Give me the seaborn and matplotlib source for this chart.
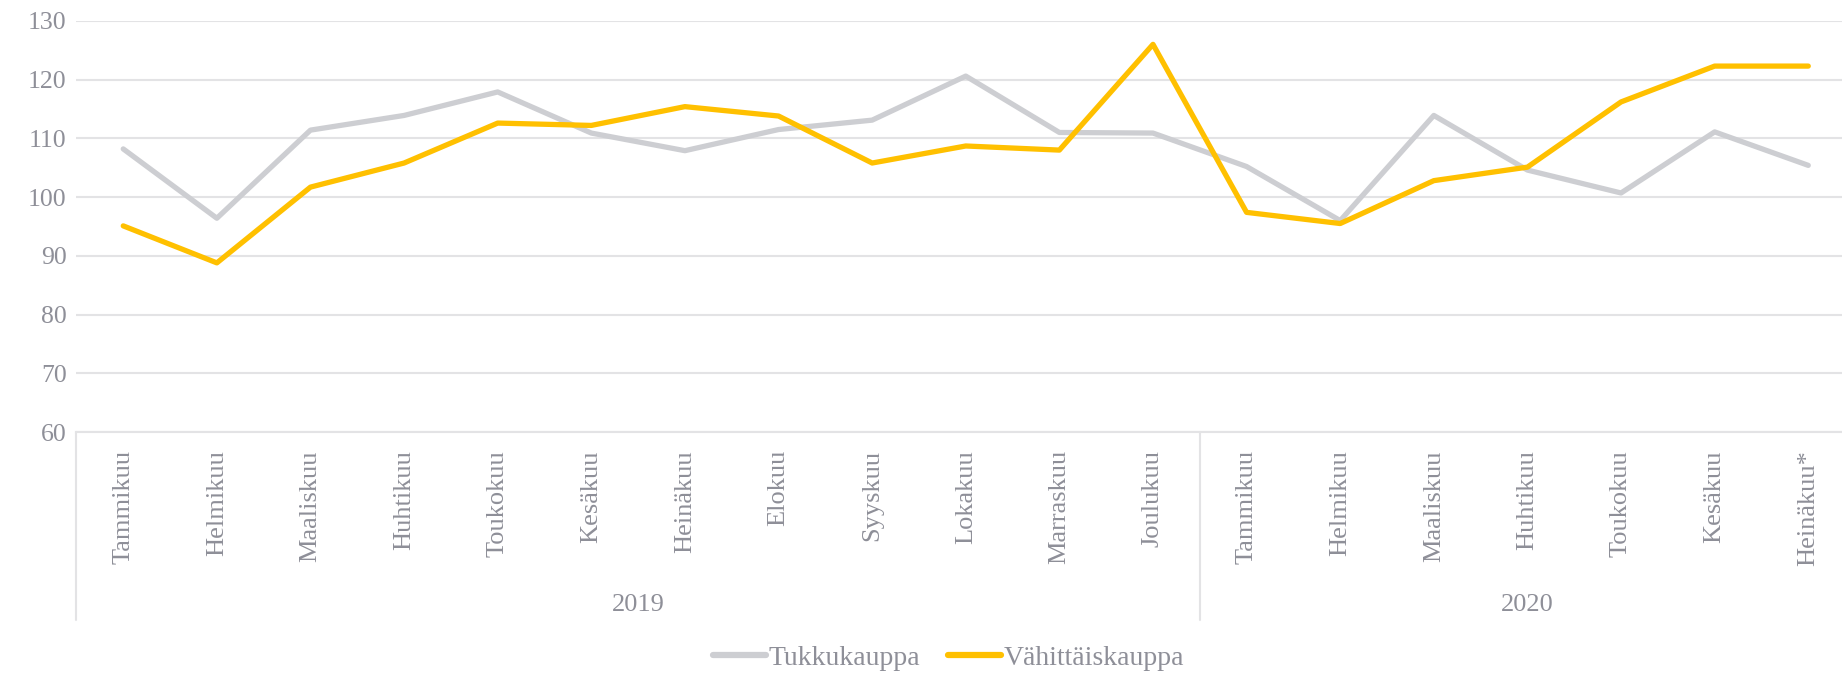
import numpy as np
import pandas as pd
import matplotlib
matplotlib.use("Agg")
import matplotlib.pyplot as plt
import matplotlib.transforms as mtransforms
import seaborn as sns

months = ["Tammikuu", "Helmikuu", "Maaliskuu", "Huhtikuu", "Toukokuu", "Kesäkuu",
          "Heinäkuu", "Elokuu", "Syyskuu", "Lokakuu", "Marraskuu", "Joulukuu",
          "Tammikuu", "Helmikuu", "Maaliskuu", "Huhtikuu", "Toukokuu", "Kesäkuu",
          "Heinäkuu*"]
years = ["2019", "2020"]
year_sizes = [12, 7]

tukku = [108.2, 96.4, 111.4, 113.9, 117.9, 110.9, 107.9, 111.5, 113.1, 120.6,
         111.0, 110.9, 105.2, 96.0, 113.9, 104.6, 100.7, 111.1, 105.4]
vahittais = [95.1, 88.8, 101.7, 105.8, 112.6, 112.2, 115.4, 113.8, 105.8, 108.7,
             108.0, 126.0, 97.4, 95.5, 102.8, 105.1, 116.2, 122.3, 122.3]

series_names = ["Tukkukauppa", "Vähittäiskauppa"]
colors = ["#CDCED2", "#FFC000"]
text_color = "#8E8F98"
grid_color = "#E3E3E5"

df = pd.DataFrame({
    "pos": list(range(len(months))) * 2,
    "value": tukku + vahittais,
    "sarja": [series_names[0]] * len(months) + [series_names[1]] * len(months),
})

sns.set_style("white")
plt.rcParams["font.family"] = ["Liberation Serif", "DejaVu Serif"]

fig = plt.figure(figsize=(18.42, 6.73), dpi=100)
ax = fig.add_axes([0.0415, 0.358, 0.9656, 0.611])

sns.lineplot(data=df, x="pos", y="value", hue="sarja", palette=colors,
             linewidth=3.8, ax=ax, legend=False)

ax.set_xlim(-0.5, len(months) - 0.5)
ax.set_ylim(60, 130)
ax.set_yticks(np.arange(60, 131, 10))
ax.yaxis.grid(True, color=grid_color, linewidth=1.5)
ax.set_axisbelow(True)
for s in ["top", "right", "left"]:
    ax.spines[s].set_visible(False)
ax.spines["bottom"].set_color(grid_color)
ax.spines["bottom"].set_linewidth(1.5)

ax.set_xticks(range(len(months)))
ax.set_xticklabels(months, rotation=90, fontsize=19, color=text_color)
ax.tick_params(axis="x", length=0, pad=13)
ax.tick_params(axis="y", length=0, pad=7, labelsize=18.5, labelcolor=text_color)
ax.set_xlabel("")
ax.set_ylabel("")

# year grouping below the month labels
trans = mtransforms.blended_transform_factory(ax.transData, ax.transAxes)
bounds = [-0.5]
for n in year_sizes:
    bounds.append(bounds[-1] + n)
for b in bounds[:-1]:
    ax.plot([b, b], [0, -0.457], transform=trans, color=grid_color,
            linewidth=1.5, clip_on=False)
for i, yr in enumerate(years):
    mid = (bounds[i] + bounds[i + 1]) / 2
    ax.text(mid, -0.42, yr, transform=trans, ha="center", va="center",
            fontsize=19, color=text_color)

handles = [plt.Line2D([], [], color=c, linewidth=4.5) for c in colors]
fig.legend(handles, series_names, loc="center", bbox_to_anchor=(0.515, 0.022),
           ncol=2, frameon=False, fontsize=20, labelcolor=text_color,
           handlelength=1.9, handletextpad=0.1, columnspacing=1.0)

fig.savefig("out.png", dpi=100)
